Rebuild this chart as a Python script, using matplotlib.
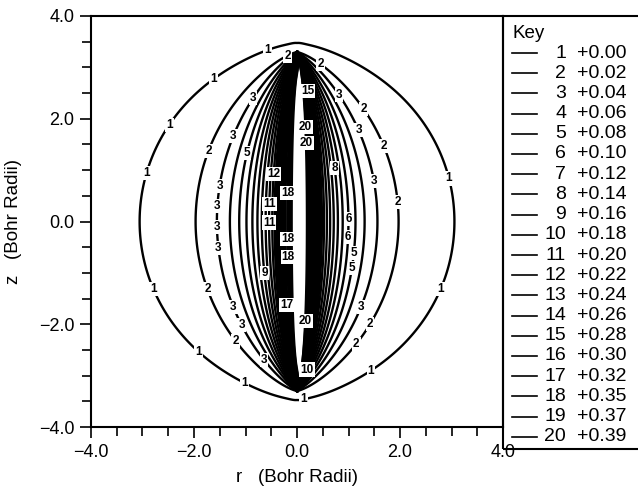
import numpy as np
import matplotlib.pyplot as plt
from matplotlib.lines import Line2D
from matplotlib.patches import Rectangle
from matplotlib.ticker import MultipleLocator, FuncFormatter

plt.rcParams['font.family'] = ['Liberation Sans', 'DejaVu Sans']

# contour levels as listed in the key
level_ids = list(range(1, 21))
levels = [0.00, 0.02, 0.04, 0.06, 0.08, 0.10, 0.12, 0.14, 0.16, 0.18,
          0.20, 0.22, 0.24, 0.26, 0.28, 0.30, 0.32, 0.35, 0.37, 0.39]
level_text = ['+0.00', '+0.02', '+0.04', '+0.06', '+0.08', '+0.10', '+0.12',
              '+0.14', '+0.16', '+0.18', '+0.20', '+0.22', '+0.24', '+0.26',
              '+0.28', '+0.30', '+0.32', '+0.35', '+0.37', '+0.39']

# field model: depends on the angle the bond axis (z = -a..a) subtends at (r, z),
# straightened near the axis so the inner contours run parallel to it
half_len = 3.3
amp = 0.51
decay = 0.38
offset = 0.010
straighten = 0.75
reach = 0.3
core_shift = 0.06
tip_bump = 0.014
tip_width = 0.5

# where the numbers sit on the contours (r, z)
label_pos = {
    1: [(-0.6, 3.4), (-1.65, 2.82), (-2.48, 1.88), (-2.93, 0.95),
        (-2.81, -1.32), (-1.94, -2.58), (-1.0, -3.1), (0.14, -3.5),
        (1.47, -2.95), (2.89, -1.36), (3.0, 0.85)],
    2: [(-0.16, 3.18), (-1.51, 1.30), (-1.57, -1.26), (-0.97, -2.16),
        (0.33, 2.89), (1.05, 2.02), (1.45, 1.38), (1.82, 0.37),
        (1.18, -1.86), (0.91, -2.19)],
    3: [(-0.50, 2.17), (-0.97, 1.55), (-1.38, 0.68), (-1.42, 0.3),
        (-1.42, -0.1), (-1.42, -0.5), (-0.97, -1.55), (-0.76, -1.86),
        (-0.39, -2.49), (0.50, 2.25), (0.91, 1.65), (1.36, 0.76),
        (0.97, -1.55)],
    5: [(-0.68, 1.26), (0.95, -0.60), (0.89, -0.87)],
    6: [(0.87, 0.04), (0.87, -0.29)],
    8: [(0.52, 1.01)],
    9: [(-0.48, -0.99)],
    10: [(0.04, -2.82)],
    11: [(-0.45, 0.33), (-0.45, -0.02)],
    12: [(-0.35, 0.91)],
    15: [(0.08, 2.52)],
    17: [(-0.16, -1.63)],
    18: [(-0.29, 0.56), (-0.31, -0.35), (-0.29, -0.70)],
    20: [(0.14, 1.84), (0.16, 1.53), (0.06, -1.94)],
}


def subtended(rr, zz):
    return np.arctan2(2 * half_len * np.abs(rr), rr**2 + zz**2 - half_len**2)


r = np.linspace(-4, 4, 1601)
z = np.linspace(-4, 4, 1601)
R, Z = np.meshgrid(r, z)
w = np.pi - subtended(R, Z)
w = np.pi - subtended(R - core_shift * np.exp(-w / reach), Z)
c = 1 - straighten * (Z / half_len)**2 * np.exp(-w / reach)
c = np.clip(c, 0.05, None)
d_tip = np.minimum(np.hypot(R, Z - half_len), np.hypot(R, Z + half_len))
F = amp * np.exp(-w * c / decay) - offset + tip_bump * np.exp(-d_tip / tip_width)

fig = plt.figure(figsize=(6.38, 4.93), dpi=100)
ax = fig.add_axes([91 / 638, 1 - 427 / 493, 412 / 638, 411 / 493])
ax.set_xlim(-4, 4)
ax.set_ylim(-4, 4)

for i, lev in zip(level_ids, levels):
    lw = 2.5 if i >= 13 else 1.7
    if i == 20:
        lw = 1.7
    cs = ax.contour(R, Z, F, levels=[lev], colors='k', linewidths=lw)
    if i in label_pos:
        txts = ax.clabel(cs, fmt={lev: str(i)}, manual=label_pos[i],
                         inline=False, fontsize=8.5)
        for t in txts:
            t.set_fontweight('bold')
            t.set_rotation(0)
            t.set_bbox(dict(facecolor='white', edgecolor='none', pad=0.8))
            t.set_zorder(5)

minus = lambda v, p: '{:.1f}'.format(v).replace('-', '\u2212')
ax.set_xticks([-4, -2, 0, 2, 4])
ax.set_yticks([-4, -2, 0, 2, 4])
ax.xaxis.set_minor_locator(MultipleLocator(0.5))
ax.yaxis.set_minor_locator(MultipleLocator(0.5))
ax.xaxis.set_major_formatter(FuncFormatter(minus))
ax.yaxis.set_major_formatter(FuncFormatter(minus))
ax.tick_params(which='major', direction='out', length=8, width=1.2,
               labelsize=13, pad=4)
ax.tick_params(which='minor', direction='out', length=6.5, width=1.2)
for s in ax.spines.values():
    s.set_linewidth(1.5)

ax.set_xlabel('r   (Bohr Radii)', fontsize=13.5, labelpad=6)
ax.set_ylabel('z   (Bohr Radii)', fontsize=13.5)
ax.yaxis.set_label_coords(-0.167, 0.5)

# key box on the right
fig.add_artist(Rectangle((503 / 638, 1 - 449 / 493), 0.3, 433 / 493,
                         transform=fig.transFigure, fill=False, lw=1.5,
                         clip_on=False))
fig.text(513 / 638, 1 - 33 / 493, 'Key', fontsize=13.5, va='center', ha='left')
for k, (i, txt) in enumerate(zip(level_ids, level_text)):
    yk = 1 - (53 + k * 20.2) / 493
    fig.add_artist(Line2D([512 / 638, 537 / 638], [yk, yk], color='k', lw=1.2,
                          transform=fig.transFigure))
    fig.text(566 / 638, yk, str(i), fontsize=14, va='center', ha='right')
    fig.text(577 / 638, yk, txt, fontsize=14, va='center', ha='left')

fig.savefig('out.png', dpi=100)
